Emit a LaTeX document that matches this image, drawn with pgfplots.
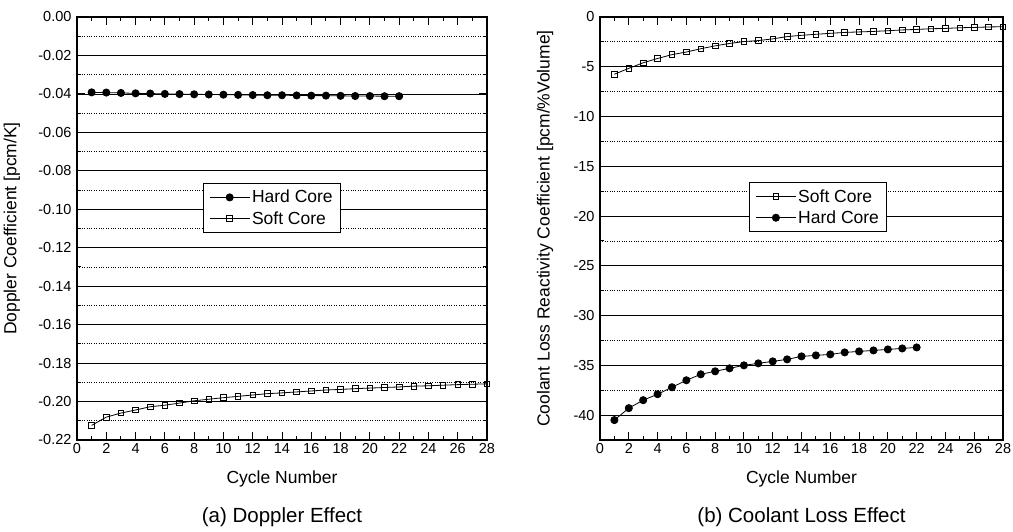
\documentclass[border=0pt]{standalone}
\usepackage{fontspec}
\setmainfont{Liberation Sans}
\usepackage{pgfplots}
\pgfplotsset{compat=1.18}
\begin{document}
\begin{tikzpicture}[x=1pt,y=1pt]
\useasboundingbox (0,0) rectangle (1013,532);
\pgfplotsset{
  myax/.style={
    scale only axis, anchor=south west, clip mode=individual,
    xmin=0, xmax=28, xtick={0,2,...,28}, minor xtick={1,3,...,27},
    tick align=inside, major tick length=8pt, minor tick length=4pt,
    axis line style={line width=1.2pt},
    every tick/.style={black, line width=1pt},
    ymajorgrids, yminorgrids,
    major grid style={black, line width=0.8pt},
    minor grid style={black, dotted, line width=0.8pt},
    tick label style={font=\fontsize{14.5}{16}\selectfont},
    yticklabel style={xshift=-2pt},
    /pgf/number format/assume math mode=true,
    label style={font=\fontsize{17.5}{19}\selectfont},
    xlabel style={at={(axis description cs:0.5,-0.092)}, anchor=center},
    legend style={font=\fontsize{17.5}{19}\selectfont, draw=black, line width=1pt,
      inner xsep=6pt, inner ysep=5pt, row sep=3pt, cells={anchor=west}},
    legend image code/.code={\draw[mark repeat=2,mark phase=2] plot coordinates {(0cm,0cm) (0.7cm,0cm) (1.4cm,0cm)};},
  },
  hard/.style={black, line width=0.8pt, mark=*, mark size=3.6pt},
  soft/.style={black, line width=0.8pt, mark=square, mark size=2.8pt, mark options={fill=white, solid}},
}
% Left: Doppler
\begin{axis}[myax, at={(77pt,92pt)}, width=410pt, height=423pt,
  ymin=-0.22, ymax=0, ytick={-0.22,-0.20,...,0.001}, minor tick num=1,
  yticklabel style={/pgf/number format/.cd, fixed, fixed zerofill, precision=2},
  ylabel={Doppler Coefficient [pcm/K]},
  ylabel style={at={(axis description cs:-0.159,0.5)}, anchor=center},
  xlabel={Cycle Number},
  legend style={at={(0.307,0.608)}, anchor=north west},
]
\addplot[hard] coordinates {
(1,-0.0392) (2,-0.0393) (3,-0.0395) (4,-0.0397) (5,-0.0398) (6,-0.0400) (7,-0.0401)
(8,-0.0402) (9,-0.0403) (10,-0.0404) (11,-0.0405) (12,-0.0406) (13,-0.0407) (14,-0.0407)
(15,-0.0408) (16,-0.0409) (17,-0.0409) (18,-0.0410) (19,-0.0411) (20,-0.0411) (21,-0.0412) (22,-0.0412)};
\addlegendentry{Hard Core}
\addplot[soft] coordinates {
(1,-0.2124) (2,-0.2081) (3,-0.2060) (4,-0.2044) (5,-0.2027) (6,-0.2019) (7,-0.2008)
(8,-0.1996) (9,-0.1988) (10,-0.1980) (11,-0.1973) (12,-0.1966) (13,-0.1959) (14,-0.1955)
(15,-0.1950) (16,-0.1945) (17,-0.1940) (18,-0.1937) (19,-0.1933) (20,-0.1930) (21,-0.1927)
(22,-0.1924) (23,-0.1920) (24,-0.1918) (25,-0.1915) (26,-0.1912) (27,-0.1910) (28,-0.1908)};
\addlegendentry{Soft Core}
\node[font=\fontsize{20.5}{22}\selectfont] at (axis description cs:0.5,-0.182) {(a) Doppler Effect};
\end{axis}
% Right: Coolant loss
\begin{axis}[myax, at={(600pt,92pt)}, width=403pt, height=423pt,
  ymin=-42.5, ymax=0, ytick={-40,-35,...,0}, minor tick num=1,
  ylabel={Coolant Loss Reactivity Coefficient [pcm/\%Volume]},
  ylabel style={at={(axis description cs:-0.136,0.5)}, anchor=center},
  xlabel={Cycle Number},
  legend style={at={(0.37,0.61)}, anchor=north west},
]
\addplot[soft] coordinates {
(1,-5.75) (2,-5.16) (3,-4.60) (4,-4.17) (5,-3.78) (6,-3.52) (7,-3.19) (8,-2.90)
(9,-2.66) (10,-2.47) (11,-2.37) (12,-2.20) (13,-1.97) (14,-1.84) (15,-1.74) (16,-1.64)
(17,-1.55) (18,-1.50) (19,-1.45) (20,-1.38) (21,-1.30) (22,-1.25) (23,-1.18) (24,-1.15)
(25,-1.08) (26,-1.05) (27,-1.00) (28,-0.98)};
\addlegendentry{Soft Core}
\addplot[hard] coordinates {
(1,-40.5) (2,-39.3) (3,-38.5) (4,-37.9) (5,-37.2) (6,-36.5) (7,-35.9) (8,-35.6)
(9,-35.3) (10,-35.0) (11,-34.8) (12,-34.6) (13,-34.4) (14,-34.1) (15,-34.0) (16,-33.9)
(17,-33.7) (18,-33.6) (19,-33.5) (20,-33.4) (21,-33.3) (22,-33.2)};
\addlegendentry{Hard Core}
\node[font=\fontsize{20.5}{22}\selectfont] at (axis description cs:0.5,-0.182) {(b) Coolant Loss Effect};
\end{axis}
\end{tikzpicture}
\end{document}
